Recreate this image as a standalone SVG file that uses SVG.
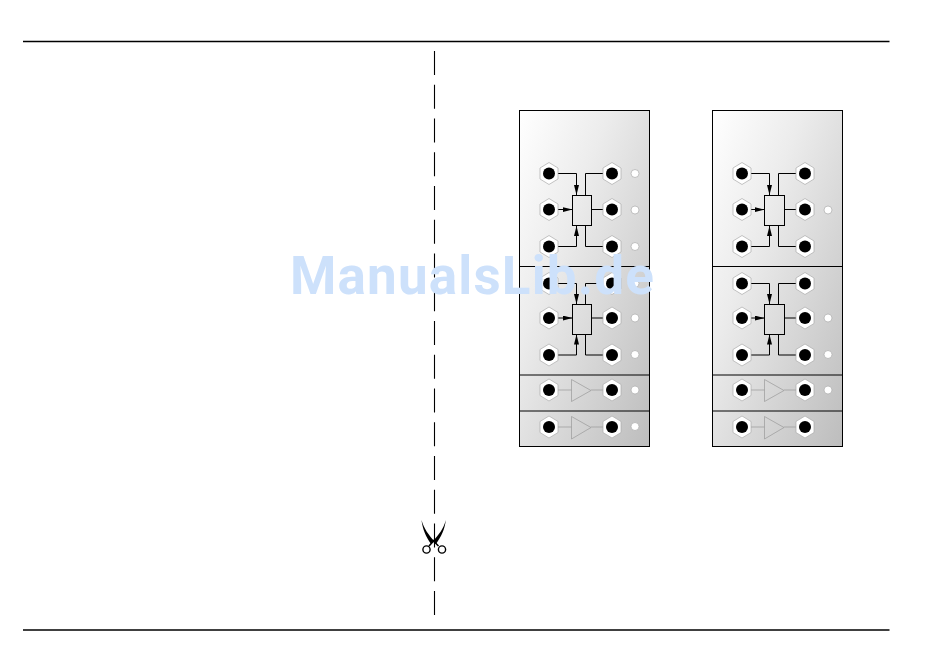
<svg xmlns="http://www.w3.org/2000/svg" xmlns:xlink="http://www.w3.org/1999/xlink" width="950" height="655" viewBox="0 0 950 655">
<style>
.rule{stroke:#000;stroke-width:1.6;fill:none}
.panel{fill:url(#pg);stroke:#000;stroke-width:1}
.div{stroke:#000;stroke-width:1;fill:none}
.hex{fill:#fff;stroke:#aaa;stroke-width:.7}
.hole{fill:#000}
.led{fill:#fff;stroke:#aaa;stroke-width:.7}
.w{stroke:#000;stroke-width:1;fill:none}
.box{fill:none;stroke:#000;stroke-width:1}
.amp{fill:none;stroke:#999;stroke-width:.7}
.wm{font-family:Roboto,"Liberation Sans",sans-serif;font-weight:700;font-size:53px;fill:#cde1fb;letter-spacing:1.15px}
</style>
<defs>
<linearGradient id="pg" x1="0" y1="0" x2="1" y2="1"><stop offset="0" stop-color="#fff"/><stop offset=".35" stop-color="#ececec"/><stop offset="1" stop-color="#bdbdbd"/></linearGradient>
<marker id="ah" viewBox="0 0 10 5" refX="10" refY="2.5" markerWidth="10" markerHeight="5" markerUnits="userSpaceOnUse" orient="auto"><path d="M0 0L10 2.5L0 5Z" fill="#000"/></marker>
<g id="jack"><polygon class="hex" points="0,-11 9,-5.5 9,5.5 0,11 -9,5.5 -9,-5.5"/><circle class="hole" r="6"/></g>
<circle id="lamp" class="led" r="4"/>
</defs>
<g id="rules"><path class="rule" d="M23 41.5H889.5"/><path class="rule" d="M23 630H889.5"/></g>
<g id="cut"><path d="M434.5 51V615" stroke="#000" stroke-width="1.1" stroke-dasharray="24 9.75" fill="none"/></g>
<g id="scissors">
<path d="M421.5 520C424 529 429 535 434 541L431 544C426 537 422.5 529 421.5 520Z" fill="#000"/>
<path d="M445.8 520C443.5 529 438.5 535 433 541L436 544C441 537 445 529 445.8 520Z" fill="#000"/>
<path d="M434.5 540L429 546M432.5 540L438.5 546" stroke="#000" stroke-width="1.6" fill="none"/>
<circle cx="426.5" cy="549.5" r="3.6" fill="none" stroke="#000" stroke-width="1.4"/>
<circle cx="442" cy="549.5" r="3.6" fill="none" stroke="#000" stroke-width="1.4"/>
</g>
<g id="panel-a">
<rect class="panel" x="519.5" y="110.5" width="130" height="336"/>
<path class="div" d="M520 266.5H649M520 375H649M520 411H649"/>
</g>
<g id="panel-b">
<rect class="panel" x="712.5" y="110.5" width="130" height="336"/>
<path class="div" d="M713 266.5H842M713 375H842M713 411H842"/>
</g>
<g id="connectors">
<g id="wires-a1"><path class="w" d="M558 173.5H576.5V195" marker-end="url(#ah)"/><path class="w" d="M558 209.5H572.5" marker-end="url(#ah)"/><path class="w" d="M558 246.5H576.5V226" marker-end="url(#ah)"/><path class="w" d="M585.5 195.5V173.5H603M591.500 209.500H603M585.500 225.500V246.500H603"/></g>
<g id="wires-a2"><path class="w" d="M558 283.500H576.500V304" marker-end="url(#ah)"/><path class="w" d="M558 318H572.500" marker-end="url(#ah)"/><path class="w" d="M558 355H576.500V334.500" marker-end="url(#ah)"/><path class="w" d="M585.500 304V283.500H603M591.500 318H603M585.500 334.500V355H603"/></g>
<g id="wires-b1"><path class="w" d="M750 173.500H769.500V195" marker-end="url(#ah)"/><path class="w" d="M750 209.500H764.500" marker-end="url(#ah)"/><path class="w" d="M750 246.500H769.500V226" marker-end="url(#ah)"/><path class="w" d="M778.500 195.500V173.500H796M784.500 209.500H796M778.500 225.500V246.500H796"/></g>
<g id="wires-b2"><path class="w" d="M750 283.500H769.500V304" marker-end="url(#ah)"/><path class="w" d="M750 318H764.500" marker-end="url(#ah)"/><path class="w" d="M750 355H769.500V334.500" marker-end="url(#ah)"/><path class="w" d="M778.500 304V283.500H796M784.500 318H796M778.500 334.500V355H796"/></g>
<path class="amp" d="M558 390H571.500M591 390H603M558 427H571.500M591 427H603M750 390H764.500M784 390H796M750 427H764.500M784 427H796"/>
</g>
<g id="mix-a1"><rect class="box" x="572.500" y="195.500" width="19" height="30"/></g>
<g id="mix-a2"><rect class="box" x="572.500" y="304.500" width="19" height="30"/></g>
<g id="mix-b1"><rect class="box" x="764.500" y="195.500" width="20" height="30"/></g>
<g id="mix-b2"><rect class="box" x="764.500" y="304.500" width="20" height="30"/></g>
<g id="amp-a1"><polygon class="amp" points="571.500,379.500 571.500,401.500 591,390.500"/></g>
<g id="amp-a2"><polygon class="amp" points="571.500,416.500 571.500,439 591,427.500"/></g>
<g id="amp-b1"><polygon class="amp" points="764.500,379.500 764.500,401.500 784,390.500"/></g>
<g id="amp-b2"><polygon class="amp" points="764.500,416.500 764.500,439 784,427.500"/></g>
<g id="jacks-a">
<use href="#jack" x="549" y="173.500"/><use href="#jack" x="612" y="173.500"/><use href="#lamp" x="635" y="173.500"/>
<use href="#jack" x="549" y="209.500"/><use href="#jack" x="612" y="209.500"/><use href="#lamp" x="635" y="210"/>
<use href="#jack" x="549" y="246.500"/><use href="#jack" x="612" y="246.500"/><use href="#lamp" x="635" y="246.500"/>
<use href="#jack" x="549" y="283.500"/><use href="#jack" x="612" y="283.500"/><use href="#lamp" x="635" y="283.500"/>
<use href="#jack" x="549" y="318"/><use href="#jack" x="612" y="318"/><use href="#lamp" x="635" y="318"/>
<use href="#jack" x="549" y="355"/><use href="#jack" x="612" y="355"/><use href="#lamp" x="635" y="354.500"/>
<use href="#jack" x="549" y="390"/><use href="#jack" x="612" y="390"/><use href="#lamp" x="635" y="390"/>
<use href="#jack" x="549" y="427"/><use href="#jack" x="612" y="427"/><use href="#lamp" x="635" y="426.500"/>
</g>
<g id="jacks-b">
<use href="#jack" x="742" y="173.500"/><use href="#jack" x="805" y="173.500"/>
<use href="#jack" x="742" y="209.500"/><use href="#jack" x="805" y="209.500"/><use href="#lamp" x="828" y="210"/>
<use href="#jack" x="742" y="246.500"/><use href="#jack" x="805" y="246.500"/>
<use href="#jack" x="742" y="283.500"/><use href="#jack" x="805" y="283.500"/>
<use href="#jack" x="742" y="318"/><use href="#jack" x="805" y="318"/><use href="#lamp" x="828" y="318"/>
<use href="#jack" x="742" y="355"/><use href="#jack" x="805" y="355"/><use href="#lamp" x="828" y="354.500"/>
<use href="#jack" x="742" y="390"/><use href="#jack" x="805" y="390"/><use href="#lamp" x="828" y="390"/>
<use href="#jack" x="742" y="427"/><use href="#jack" x="805" y="427"/>
</g>
<text class="wm" x="290" y="294">ManualsLib.de</text>
</svg>
